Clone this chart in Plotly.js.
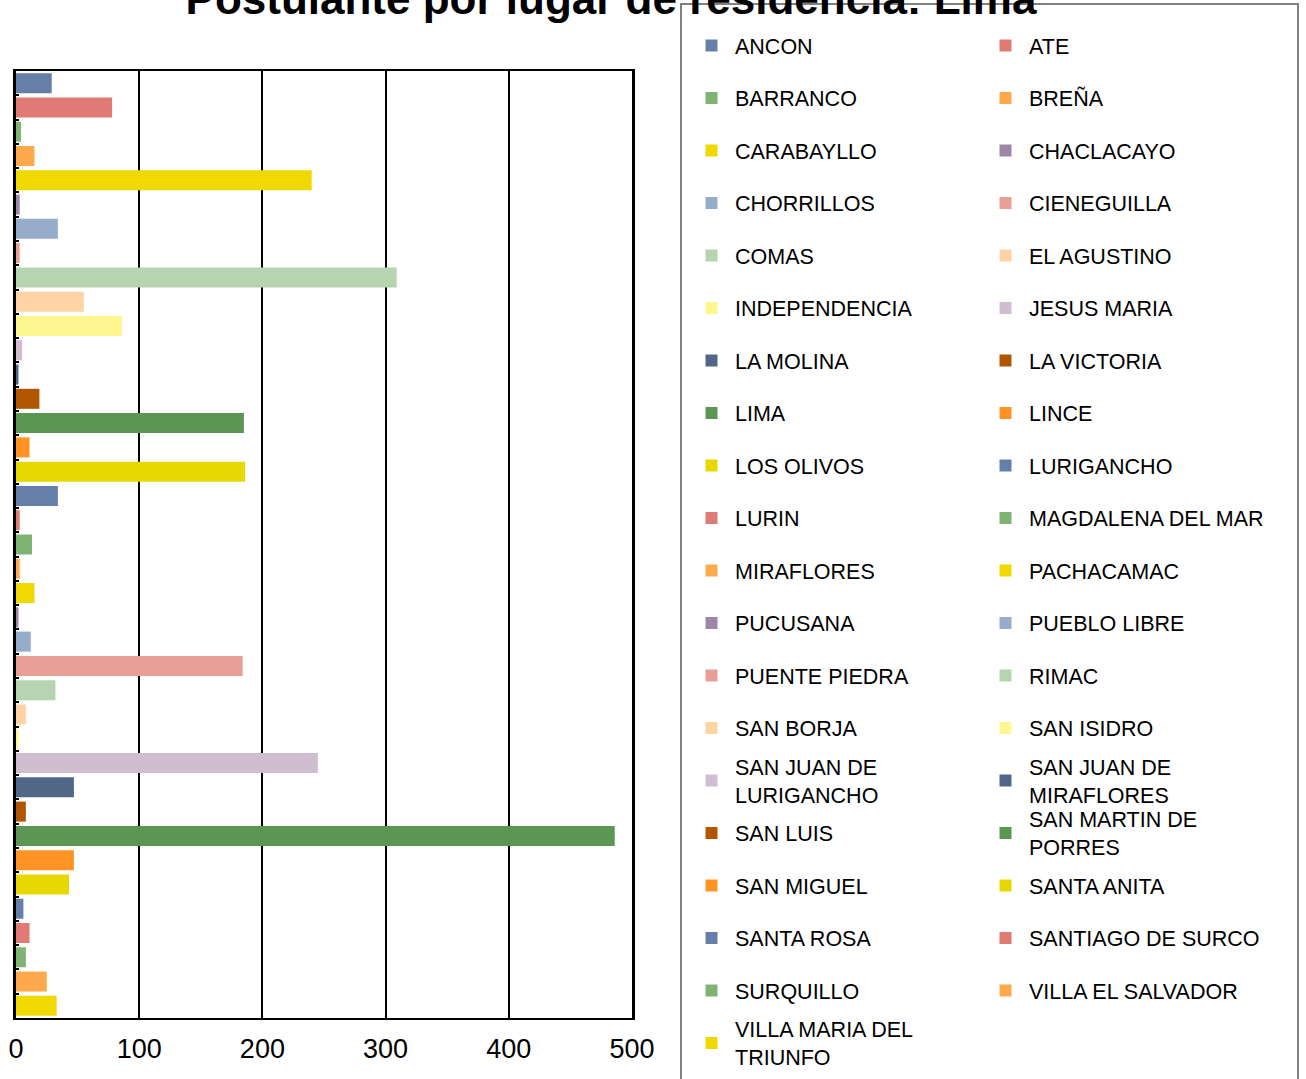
<!DOCTYPE html>
<html>
<head>
<meta charset="utf-8">
<script src="https://cdn.plot.ly/plotly-3.0.1.min.js"></script>
<style>html,body{margin:0;padding:0;background:#fff;}</style>
</head>
<body>
<div id="chart" style="width:1306px;height:1079px;"></div>
<script>
// ---- data ----
const categories = ["ANCON","ATE","BARRANCO","BREÑA","CARABAYLLO","CHACLACAYO","CHORRILLOS","CIENEGUILLA","COMAS","EL AGUSTINO","INDEPENDENCIA","JESUS MARIA","LA MOLINA","LA VICTORIA","LIMA","LINCE","LOS OLIVOS","LURIGANCHO","LURIN","MAGDALENA DEL MAR","MIRAFLORES","PACHACAMAC","PUCUSANA","PUEBLO LIBRE","PUENTE PIEDRA","RIMAC","SAN BORJA","SAN ISIDRO","SAN JUAN DE LURIGANCHO","SAN JUAN DE MIRAFLORES","SAN LUIS","SAN MARTIN DE PORRES","SAN MIGUEL","SANTA ANITA","SANTA ROSA","SANTIAGO DE SURCO","SURQUILLO","VILLA EL SALVADOR","VILLA MARIA DEL TRIUNFO"];
const postulantes = [29,78,4,15,240,3,34,3,309,55,86,5,2,19,185,11,186,34,3,13,3,15,2,12,184,32,8,2,245,47,8,486,47,43,6,11,8,25,33];
const legendLabels = ["ANCON","ATE","BARRANCO","BREÑA","CARABAYLLO","CHACLACAYO","CHORRILLOS","CIENEGUILLA","COMAS","EL AGUSTINO","INDEPENDENCIA","JESUS MARIA","LA MOLINA","LA VICTORIA","LIMA","LINCE","LOS OLIVOS","LURIGANCHO","LURIN","MAGDALENA DEL MAR","MIRAFLORES","PACHACAMAC","PUCUSANA","PUEBLO LIBRE","PUENTE PIEDRA","RIMAC","SAN BORJA","SAN ISIDRO","SAN JUAN DE<br>LURIGANCHO","SAN JUAN DE<br>MIRAFLORES","SAN LUIS","SAN MARTIN DE<br>PORRES","SAN MIGUEL","SANTA ANITA","SANTA ROSA","SANTIAGO DE SURCO","SURQUILLO","VILLA EL SALVADOR","VILLA MARIA DEL<br>TRIUNFO"];
const xTickValues = [0,100,200,300,400,500];
const palette = ["#657FA8","#E07A74","#7EB373","#FFA94D","#EFD900","#9C88A6","#97ABCA","#E89F98","#B6D4B0","#FFD3A6","#FFF68F","#CFBED0","#506788","#B05600","#5B9653","#FF9424","#E6D800"];

// ---- layout geometry ----
const W = 1306, H = 1079;
const M = {l:16, r:674, t:71, b:61};
const FONT = 'Arial, "Liberation Sans", sans-serif';
const LFS = 21.5, LH = LFS * 1.3;

const px2paperX = p => (p - M.l) / (W - M.l - M.r);
const px2paperY = p => (H - M.b - p) / (H - M.t - M.b);

const traces = categories.map((c, i) => ({
  type: 'bar',
  orientation: 'h',
  x: [postulantes[i]],
  y: [c],
  name: legendLabels[i],
  marker: {color: palette[i % palette.length]},
  legend: i === 0 ? 'legend' : 'legend' + (i + 1),
  showlegend: true,
  hoverinfo: 'x+y'
}));

const layout = {
  width: W, height: H,
  showlegend: true,
  margin: {l: M.l, r: M.r, t: M.t, b: M.b, pad: 0, autoexpand: false},
  paper_bgcolor: '#fff',
  plot_bgcolor: '#fff',
  font: {family: FONT, color: '#000'},
  title: {
    text: 'Postulante por lugar de residencia: Lima',
    font: {family: FONT, size: 44, color: '#000', weight: 'bold'},
    xref: 'container', x: 611 / W, xanchor: 'center',
    yref: 'container', y: 1 - 14 / H, yanchor: 'bottom'
  },
  barmode: 'overlay',
  bargap: 0.176,
  xaxis: {
    range: [0, 500],
    tickvals: xTickValues,
    ticktext: xTickValues.map(String),
    showgrid: true, gridcolor: '#000', gridwidth: 2,
    showline: true, mirror: true, linecolor: '#000', linewidth: 2,
    zeroline: false,
    ticks: 'outside', ticklen: 6, tickcolor: 'rgba(0,0,0,0)',
    tickfont: {family: FONT, size: 27, color: '#000'}
  },
  yaxis: {
    type: 'category',
    categoryorder: 'array', categoryarray: categories,
    range: [categories.length - 0.5, -0.5],
    showticklabels: false,
    showgrid: false, zeroline: false,
    showline: true, mirror: true, linecolor: '#000', linewidth: 2.5,
    ticks: 'inside', tickson: 'boundaries', ticklen: 3, tickwidth: 2, tickcolor: '#000'
  },
  shapes: [{
    type: 'rect', xref: 'paper', yref: 'paper',
    x0: px2paperX(681), x1: px2paperX(1298),
    y0: px2paperY(1090), y1: px2paperY(4),
    line: {color: '#808080', width: 2},
    fillcolor: 'rgba(0,0,0,0)'
  }]
};

// one legend box per entry, arranged in two columns
categories.forEach((c, i) => {
  const id = i === 0 ? 'legend' : 'legend' + (i + 1);
  const row = Math.floor(i / 2), col = i % 2;
  const lines = legendLabels[i].split('<br>').length;
  const h = Math.max(lines * LH, 16) + 3;
  const cy = 45.5 + 52.5 * row;
  const top = cy - h / 2 - 5;
  const left = col === 0 ? 688 : 982;
  layout[id] = {
    visible: true,
    xref: 'container', yref: 'container',
    x: left / W, y: 1 - top / H,
    xanchor: 'left', yanchor: 'top',
    orientation: 'v',
    font: {family: FONT, size: LFS, color: '#000'},
    bgcolor: 'rgba(0,0,0,0)', borderwidth: 0,
    itemwidth: 37
  };
});

Plotly.newPlot('chart', traces, layout, {displayModeBar: false, responsive: false});
</script>
</body>
</html>
